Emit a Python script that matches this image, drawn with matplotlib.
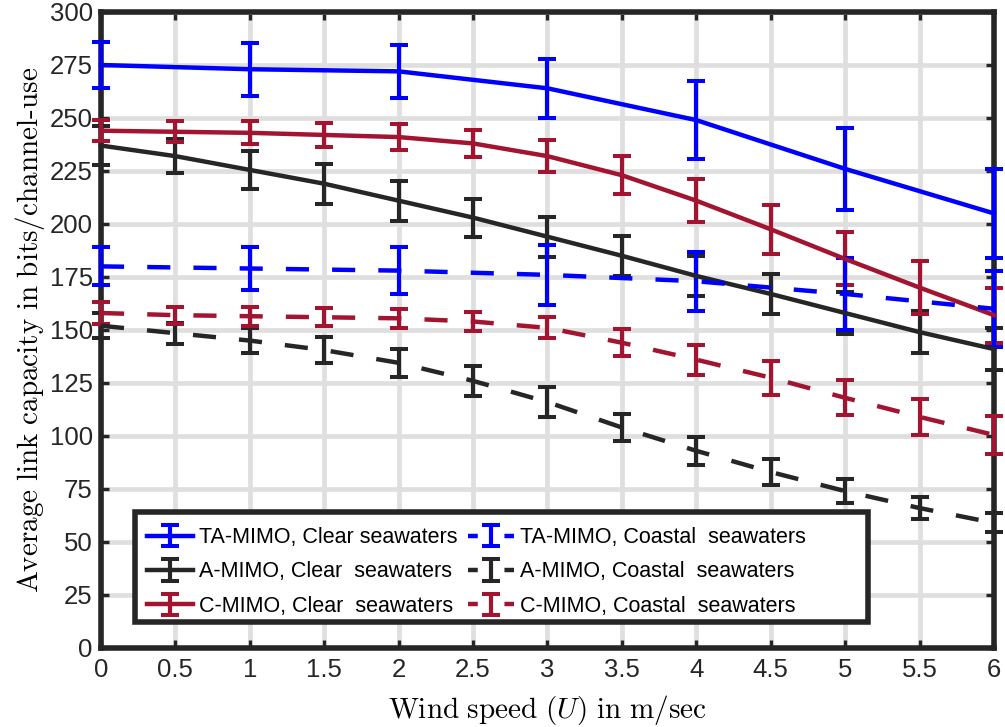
import matplotlib
matplotlib.use('Agg')
import matplotlib.pyplot as plt
from matplotlib.patches import Rectangle
from matplotlib.lines import Line2D
import numpy as np

# wind speed grid
u_half = np.arange(0, 6.01, 0.5)
u_int = np.arange(0, 7, 1)

# TA-MIMO (only at integer wind speeds)
ta_clear = [275, 273, 272, 264, 249, 226, 205]
ta_clear_err = [11, 12.5, 12.5, 14, 18.5, 19.5, 21]
ta_coast = [180, 179, 178, 176, 173, 167, 160]
ta_coast_err = [9, 10, 11, 14, 14, 17, 18]

# A-MIMO
a_clear = [237, 232, 225.5, 219, 211, 203, 194, 185, 175.5, 167, 158, 149, 141]
a_clear_err = [9, 8, 9, 9.5, 9.5, 9, 9.5, 9.5, 9.5, 9.5, 10, 10, 10]
a_coast = [152, 148.5, 145, 140.5, 134.5, 126, 116, 104, 93, 83, 74, 66, 59]
a_coast_err = [6, 5, 6, 6.3, 6.5, 7, 7, 6.5, 6.5, 6, 5.5, 5, 4.5]

# C-MIMO
c_clear = [244, 243.5, 243, 242, 241, 238, 232, 223, 211, 197.5, 183.5, 170, 157]
c_clear_err = [5, 5, 5.5, 5.5, 6, 6.5, 7.5, 9, 10, 11.5, 12.5, 12.5, 13]
c_coast = [158, 157, 156.5, 156, 155.5, 154, 151, 144, 136, 127.5, 118, 109, 100.5]
c_coast_err = [5, 4, 4.5, 4.2, 4.5, 4.7, 5, 6.3, 7, 8, 8.2, 8.5, 9]

labels = ['TA-MIMO, Clear seawaters', 'A-MIMO, Clear  seawaters',
          'C-MIMO, Clear  seawaters', 'TA-MIMO, Coastal  seawaters',
          'A-MIMO, Coastal  seawaters', 'C-MIMO, Coastal  seawaters']

blue = '#0000ff'
dark = '#262626'
red = '#a2142f'

plt.rcParams['mathtext.fontset'] = 'cm'
sans = ['Liberation Sans', 'DejaVu Sans']

fig = plt.figure(figsize=(10.05, 7.27), dpi=100)
ax = fig.add_axes([0.1005, 0.1087, 0.8885, 0.8748])

lw = 3.2
dash = (0, (5.2, 5.2))
kw = dict(capsize=6.7, capthick=2.9, elinewidth=3.0, lw=lw)

series = [
    (u_int, ta_clear, ta_clear_err, blue, '-'),
    (u_half, a_clear, a_clear_err, dark, '-'),
    (u_half, c_clear, c_clear_err, red, '-'),
    (u_int, ta_coast, ta_coast_err, blue, dash),
    (u_half, a_coast, a_coast_err, dark, dash),
    (u_half, c_coast, c_coast_err, red, dash),
]
handles = []
for (x, y, e, c, ls), lab in zip(series, labels):
    h = ax.errorbar(x, y, yerr=e, color=c, ls=ls, label=lab, clip_on=False, zorder=3, **kw)
    handles.append(h)

ax.set_xlim(0, 6)
ax.set_ylim(0, 300)
ax.set_xticks(u_half)
ax.set_xticklabels([f'{v:g}' for v in u_half])
ax.set_yticks(np.arange(0, 301, 25))
ax.grid(True, color='#dfdfdf', lw=3.4)
ax.set_axisbelow(True)
ax.tick_params(direction='in', length=6, width=2.4, top=True, right=True,
               labelsize=18.5, colors=dark)
ax.tick_params(axis='x', pad=7)
ax.tick_params(axis='y', pad=6)
for lbl in ax.get_xticklabels() + ax.get_yticklabels():
    lbl.set_family(sans)
    lbl.set_color(dark)
for s in ax.spines.values():
    s.set_linewidth(4)
    s.set_color(dark)

ax.set_xlabel(r'$\mathrm{Wind\ speed\ }(U)\mathrm{\ in\ m/sec}$', fontsize=21, labelpad=8)
ax.set_ylabel(r'$\mathrm{Average\ link\ capacity\ in\ bits/channel\text{-}use}$', fontsize=21, labelpad=2)

# legend box drawn separately (wider than its content, like the original)
ax.add_patch(Rectangle((0.038, 0.041), 0.821, 0.173, transform=ax.transAxes,
                       facecolor='white', edgecolor=dark, lw=4, zorder=5, clip_on=False))
leg = ax.legend(handles, labels, ncol=2, loc='upper left',
                bbox_to_anchor=(0.0515, 0.190), frameon=False,
                prop={'family': sans, 'size': 15.5},
                handlelength=2.15, handletextpad=0.25, columnspacing=0.5,
                labelspacing=0.62, borderpad=0, borderaxespad=0)
leg.set_zorder(6)
# short dashes in the legend samples: "- I -"
for line in leg.findobj(Line2D):
    if line.get_linestyle() == '--':
        line.set_dashes([2.2, 6.0])

fig.savefig('out.png', dpi=100)
